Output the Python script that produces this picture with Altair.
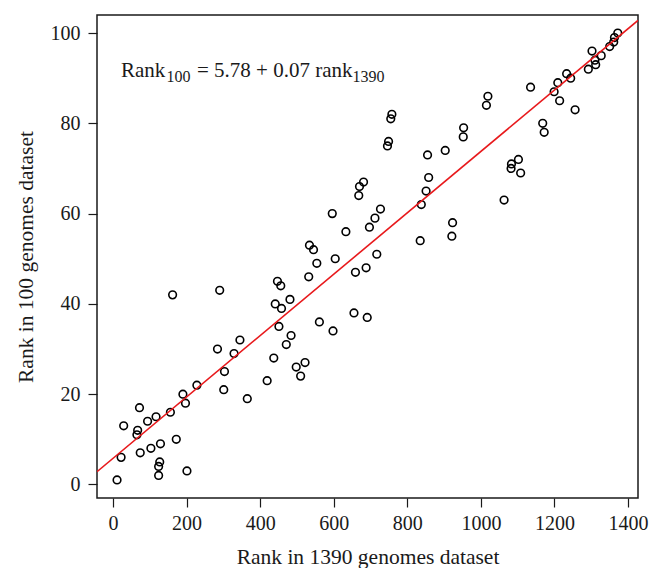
import altair as alt
import pandas as pd

# Rank in 1390 genomes dataset (x) for ranks 1..100 in the 100 genomes dataset (y)
rank_1390 = [11, 124, 201, 124, 127, 22, 74, 103, 129, 172,
             65, 67, 29, 94, 117, 156, 72, 197, 365, 190,
             301, 228, 419, 510, 303, 498, 522, 437, 329, 284,
             471, 345, 484, 598, 451, 561, 691, 655, 458, 441,
             481, 162, 290, 456, 447, 532, 659, 688, 554, 604,
             717, 545, 534, 835, 921, 633, 697, 923, 712, 596,
             727, 838, 1063, 668, 851, 670, 681, 858, 1108, 1082,
             1083, 1102, 855, 903, 746, 749, 952, 1172, 953, 1168,
             755, 758, 1256, 1015, 1214, 1019, 1199, 1135, 1209, 1244,
             1233, 1292, 1312, 1310, 1327, 1302, 1350, 1361, 1363, 1372]
rank_100 = [1, 2, 3, 4, 5, 6, 7, 8, 9, 10,
            11, 12, 13, 14, 15, 16, 17, 18, 19, 20,
            21, 22, 23, 24, 25, 26, 27, 28, 29, 30,
            31, 32, 33, 34, 35, 36, 37, 38, 39, 40,
            41, 42, 43, 44, 45, 46, 47, 48, 49, 50,
            51, 52, 53, 54, 55, 56, 57, 58, 59, 60,
            61, 62, 63, 64, 65, 66, 67, 68, 69, 70,
            71, 72, 73, 74, 75, 76, 77, 78, 79, 80,
            81, 82, 83, 84, 85, 86, 87, 88, 89, 90,
            91, 92, 93, 94, 95, 96, 97, 98, 99, 100]

intercept = 5.78
slope = 0.068
x_ticks = [0, 200, 400, 600, 800, 1000, 1200, 1400]
y_ticks = [0, 20, 40, 60, 80, 100]
x_domain = [-43.5, 1427]
y_domain = [-3.0, 104.0]
annot = ["Rank", "100", "= 5.78 + 0.07 rank", "1390"]

FONT = "Liberation Serif"
INK = "#1a1a1a"

pts = pd.DataFrame({"x": rank_1390, "y": rank_100})
fit = pd.DataFrame({"x": x_domain, "y": [intercept + slope * v for v in x_domain]})

xs = alt.Scale(domain=x_domain, nice=False, zero=False)
ys = alt.Scale(domain=y_domain, nice=False, zero=False)

xaxis = alt.Axis(values=x_ticks, format="d", title="Rank in 1390 genomes dataset", grid=False,
                 domain=False, tickSize=9, tickColor=INK, tickWidth=1.2,
                 labelFont=FONT, labelFontSize=20, labelColor=INK, labelPadding=6,
                 titleFont=FONT, titleFontSize=21.5, titleFontWeight="normal",
                 titleColor=INK, titleY=65, titleBaseline="alphabetic")
yaxis = alt.Axis(values=y_ticks, format="d", title="Rank in 100 genomes dataset", grid=False,
                 domain=False, tickSize=9, tickColor=INK, tickWidth=1.2,
                 labelFont=FONT, labelFontSize=20, labelColor=INK, labelPadding=8,
                 labelAngle=0, titleFont=FONT, titleFontSize=21.5,
                 titleFontWeight="normal", titleColor=INK, titleX=-65,
                 titleBaseline="alphabetic", titleAngle=-90)

points = alt.Chart(pts).mark_point(
    shape="circle", filled=False, color="black", size=58, strokeWidth=1.6, opacity=1
).encode(
    x=alt.X("x:Q", scale=xs, axis=xaxis),
    y=alt.Y("y:Q", scale=ys, axis=yaxis),
)

line = alt.Chart(fit).mark_line(color="#e8191c", strokeWidth=1.6, clip=True).encode(
    x=alt.X("x:Q", scale=xs),
    y=alt.Y("y:Q", scale=ys),
)

def txt(s, px, py, size):
    return alt.Chart(pd.DataFrame({"t": [s]})).mark_text(
        align="left", baseline="alphabetic", font=FONT, fontSize=size, color=INK
    ).encode(text="t:N", x=alt.value(px), y=alt.value(py))

labels = [
    txt(annot[0], 24, 62, 21),
    txt(annot[1], 69.5, 67, 16),
    txt(annot[2], 100, 62, 21),
    txt(annot[3], 255.5, 67, 16),
]

chart = alt.layer(points, line, *labels).properties(
    width=541, height=483,
    autosize=alt.AutoSizeParams(type="none"),
    padding={"left": 89, "top": 7, "right": 12, "bottom": 70},
    background="white",
).configure_view(stroke=INK, strokeWidth=1.5)

chart.save("out.html", embed_options={"renderer": "svg", "actions": False})
